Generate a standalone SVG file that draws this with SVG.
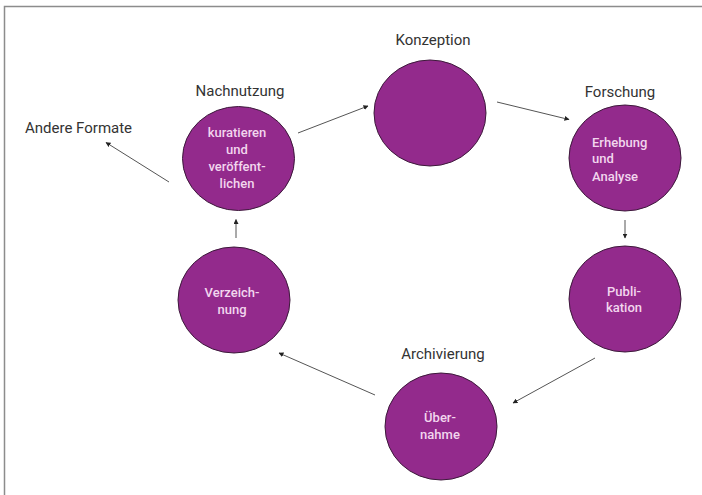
<svg xmlns="http://www.w3.org/2000/svg" width="702" height="495" viewBox="0 0 702 495">
<defs>
<style>
.node{fill:#932a8c;stroke:#3d1a3b;stroke-width:1}
.lbl{font-family:Roboto,"Liberation Sans",sans-serif;font-size:15px;fill:#333;text-anchor:middle}
.in{font-family:Roboto,"Liberation Sans",sans-serif;font-size:13px;font-weight:500;fill:#f2d6ee;text-anchor:middle}
.edge{stroke:#555;stroke-width:1;fill:none;marker-end:url(#ah)}
</style>
<marker id="ah" viewBox="0 0 10 10" refX="9" refY="5" markerWidth="5" markerHeight="5" orient="auto" markerUnits="userSpaceOnUse">
<path d="M0,0 L10,5 L0,10 z" fill="#222"/>
</marker>
</defs>
<rect width="702" height="495" fill="#fff"/>
<path d="M4.5,495 L4.5,6.5 L702,6.5" fill="none" stroke="#8c8c8c" stroke-width="1.5"/>

<g id="konzeption">
<ellipse class="node" cx="430" cy="113" rx="56" ry="53"/>
<text class="lbl" x="433" y="45">Konzeption</text>
</g>
<g id="nachnutzung">
<ellipse class="node" cx="238.5" cy="158.5" rx="56" ry="52"/>
<text class="lbl" x="240" y="96">Nachnutzung</text>
<text class="in" x="237" y="136.5">kuratieren</text>
<text class="in" x="237" y="153.5">und</text>
<text class="in" x="237" y="171">veröffent-</text>
<text class="in" x="237" y="187.5">lichen</text>
</g>
<g id="forschung">
<ellipse class="node" cx="625" cy="158" rx="56" ry="53"/>
<text class="lbl" x="620" y="97">Forschung</text>
<text class="in" x="592" y="146.5" style="text-anchor:start">Erhebung</text>
<text class="in" x="592" y="163" style="text-anchor:start">und</text>
<text class="in" x="592" y="180.5" style="text-anchor:start">Analyse</text>
</g>
<g id="publikation">
<ellipse class="node" cx="625" cy="299" rx="56" ry="53"/>
<text class="in" x="624" y="295.5">Publi-</text>
<text class="in" x="624" y="312">kation</text>
</g>
<g id="uebernahme">
<ellipse class="node" cx="441" cy="426.5" rx="56" ry="53.5"/>
<text class="lbl" x="443" y="359">Archivierung</text>
<text class="in" x="440" y="421.5">Über-</text>
<text class="in" x="440" y="438.5">nahme</text>
</g>
<g id="verzeichnung">
<ellipse class="node" cx="234" cy="300" rx="56" ry="53"/>
<text class="in" x="232" y="296.5">Verzeich-</text>
<text class="in" x="232" y="313.5">nung</text>
</g>
<g id="andere-formate">
<text class="lbl" x="25" y="133" style="text-anchor:start">Andere Formate</text>
</g>

<g id="connectors">
<line class="edge" x1="298" y1="133" x2="368" y2="106"/>
<line class="edge" x1="497" y1="102" x2="569" y2="119.5"/>
<line class="edge" x1="625" y1="220" x2="625" y2="238"/>
<line class="edge" x1="595" y1="358" x2="513" y2="403"/>
<line class="edge" x1="375" y1="395" x2="279" y2="353"/>
<line class="edge" x1="236" y1="238" x2="236" y2="219.5"/>
<line class="edge" x1="169" y1="182" x2="106" y2="142.5"/>
</g>
</svg>
